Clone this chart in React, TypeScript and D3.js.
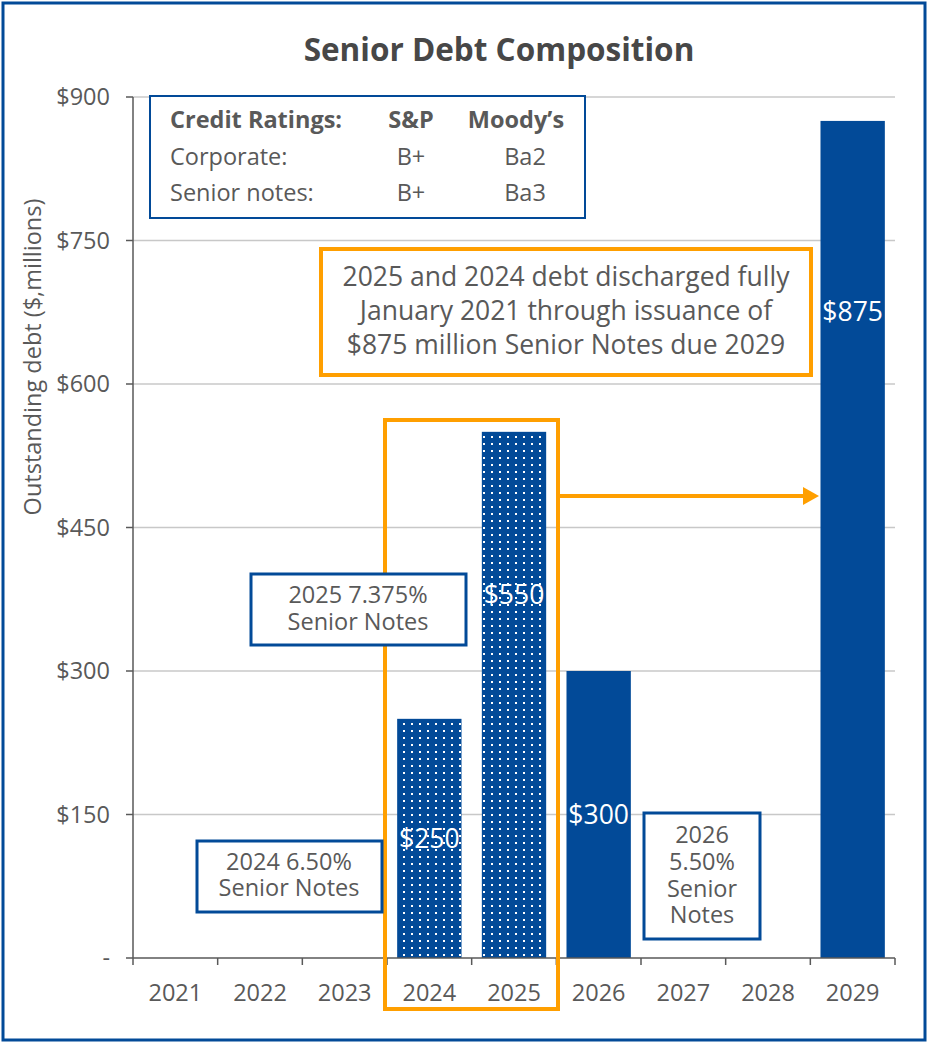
import React, { useEffect } from "react";
import * as d3 from "d3";

const years = ["2021", "2022", "2023", "2024", "2025", "2026", "2027", "2028", "2029"];
const debt = [0, 0, 0, 250, 550, 300, 0, 0, 875];
const discharged = [false, false, false, true, true, false, false, false, false];
const labelAnchor = [0, 0, 0, 125, 380, 150, 0, 0, 676];
const yTicks = [0, 150, 300, 450, 600, 750, 900];
const ratingRows = [
  ["Corporate:", "B+", "Ba2"],
  ["Senior notes:", "B+", "Ba3"],
];

const W = 927;
const H = 1043;
const BLUE = "#024a98";
const ORANGE = "#ff9f00";
const GRAY = "#595959";
const FONT = "'Open Sans', 'Noto Sans', sans-serif";

export default function App() {
  useEffect(() => {
    document.body.style.margin = "0";
  }, []);

  const x = d3.scaleBand<string>().domain(years).range([133, 895]).paddingInner(0.24).paddingOuter(0.12);
  const xb = d3.scaleBand<string>().domain(years).range([133, 895]);
  const y = d3.scaleLinear().domain([0, 900]).range([958, 97]);

  const fmt = (v: number) => (v === 0 ? "-" : "$" + v);

  return (
    <svg width={W} height={H} style={{ display: "block", fontFamily: FONT }}>
      <defs>
        <pattern id="dots" width={8} height={7} patternUnits="userSpaceOnUse">
          <rect width={8} height={7} fill={BLUE} />
          <rect x={3} y={2} width={2} height={2} fill="#ffffff" />
        </pattern>
      </defs>
      <rect x={0} y={0} width={W} height={H} fill="#fff" />
      <rect x={3} y={3} width={922} height={1037} fill="none" stroke={BLUE} strokeWidth={3} />

      <text x={499} y={61} textAnchor="middle" fontSize={31.5} fontWeight={700} fill="#474747">
        Senior Debt Composition
      </text>

      {/* gridlines */}
      {yTicks.filter((t) => t > 0).map((t) => (
        <line key={t} x1={133} x2={895} y1={y(t)} y2={y(t)} stroke="#c8c8c8" strokeWidth={1.5} />
      ))}

      {/* y axis */}
      <line x1={133} x2={133} y1={y(900)} y2={y(0)} stroke={GRAY} strokeWidth={1.5} />
      {yTicks.map((t) => (
        <g key={t}>
          <line x1={126} x2={133} y1={y(t)} y2={y(t)} stroke={GRAY} strokeWidth={1.5} />
          <text x={110} y={y(t)} dy="0.35em" textAnchor="end" fontSize={23.5} fill={GRAY}>
            {fmt(t)}
          </text>
        </g>
      ))}
      <text
        transform={`translate(41,357) rotate(-90)`}
        textAnchor="middle"
        fontSize={23.5}
        fill={GRAY}
      >
        Outstanding debt ($,millions)
      </text>

      {/* bars */}
      {years.map((yr, i) =>
        debt[i] > 0 ? (
          <rect
            key={yr}
            x={x(yr)}
            y={y(debt[i])}
            width={x.bandwidth()}
            height={y(0) - y(debt[i])}
            fill={discharged[i] ? "url(#dots)" : BLUE}
          />
        ) : null
      )}

      {/* x axis */}
      <line x1={133} x2={895} y1={y(0)} y2={y(0)} stroke={GRAY} strokeWidth={1.5} />
      {years.map((yr) => (
        <line key={yr} x1={xb(yr)} x2={xb(yr)} y1={y(0)} y2={y(0) + 7} stroke={GRAY} strokeWidth={1.5} />
      ))}
      <line x1={895} x2={895} y1={y(0)} y2={y(0) + 7} stroke={GRAY} strokeWidth={1.5} />
      {years.map((yr) => (
        <text key={yr} x={(xb(yr) as number) + xb.bandwidth() / 2} y={1001} textAnchor="middle" fontSize={23.5} fill={GRAY}>
          {yr}
        </text>
      ))}

      {/* bar labels */}
      {years.map((yr, i) =>
        debt[i] > 0 ? (
          <text
            key={yr}
            x={(x(yr) as number) + x.bandwidth() / 2}
            y={y(labelAnchor[i])}
            dy="0.35em"
            textAnchor="middle"
            fontSize={26.5}
            fill="#fff"
          >
            {"$" + debt[i]}
          </text>
        ) : null
      )}

      {/* credit ratings table */}
      <rect x={150} y={96} width={435} height={122} fill="#fff" stroke={BLUE} strokeWidth={2} />
      <g fontSize={23.5} fill={GRAY}>
        <text x={170} y={128} fontWeight={700}>Credit Ratings:</text>
        <text x={411} y={128} fontWeight={700} textAnchor="middle">S&amp;P</text>
        <text x={516} y={128} fontWeight={700} textAnchor="middle">Moody’s</text>
        {ratingRows.map((r, k) => (
          <g key={k}>
            <text x={170} y={165 + k * 36}>{r[0]}</text>
            <text x={411} y={165 + k * 36} textAnchor="middle">{r[1]}</text>
            <text x={525} y={165 + k * 36} textAnchor="middle">{r[2]}</text>
          </g>
        ))}
      </g>

      {/* orange callout */}
      <rect x={321} y={249} width={490} height={126} fill="#fff" stroke={ORANGE} strokeWidth={4} />
      <g fontSize={26.5} fill={GRAY} textAnchor="middle">
        <text x={566} y={286}>2025 and 2024 debt discharged fully</text>
        <text x={566} y={320}>January 2021 through issuance of</text>
        <text x={566} y={354}>$875 million Senior Notes due 2029</text>
      </g>

      {/* orange bracket around 2024/2025 */}
      <rect x={385} y={420} width={173} height={589} fill="none" stroke={ORANGE} strokeWidth={4} />
      <line x1={558} x2={806} y1={496} y2={496} stroke={ORANGE} strokeWidth={4} />
      <path d="M803,487 L819,496 L803,505 Z" fill={ORANGE} />

      {/* blue note boxes */}
      <rect x={251} y={574} width={215} height={71} fill="#fff" stroke={BLUE} strokeWidth={3} />
      <g fontSize={23.5} fill={GRAY} textAnchor="middle">
        <text x={358} y={603}>2025 7.375%</text>
        <text x={358} y={630}>Senior Notes</text>
      </g>

      <rect x={197} y={841} width={185} height={71} fill="#fff" stroke={BLUE} strokeWidth={3} />
      <g fontSize={23.5} fill={GRAY} textAnchor="middle">
        <text x={289} y={870}>2024 6.50%</text>
        <text x={289} y={896}>Senior Notes</text>
      </g>

      <rect x={644} y={813} width={116} height={126} fill="#fff" stroke={BLUE} strokeWidth={3} />
      <g fontSize={23.5} fill={GRAY} textAnchor="middle">
        <text x={702} y={843}>2026</text>
        <text x={702} y={870}>5.50%</text>
        <text x={702} y={897}>Senior</text>
        <text x={702} y={923}>Notes</text>
      </g>
    </svg>
  );
}
